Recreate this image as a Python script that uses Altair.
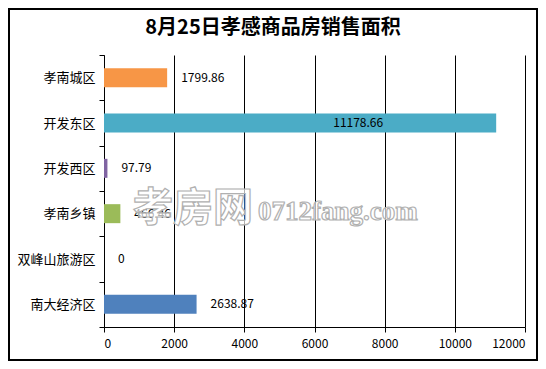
import altair as alt
import pandas as pd

categories = ["孝南城区", "开发东区", "开发西区", "孝南乡镇", "双峰山旅游区", "南大经济区"]
values = [1799.86, 11178.66, 97.79, 466.46, 0, 2638.87]
labels = ["1799.86", "11178.66", "97.79", "466.46", "0", "2638.87"]
colors = ["#F79646", "#4BACC6", "#8064A2", "#9BBB59", "#C0504D", "#4F81BD"]
x_ticks = [0, 2000, 4000, 6000, 8000, 10000, 12000]
title_text = "8月25日孝感商品房销售面积"
watermark_big = "孝房网"
watermark_small = "0712fang.com"

df = pd.DataFrame({"cat": categories, "value": values, "label": labels, "color": colors})

FONT = "Noto Sans CJK SC"

y_enc = alt.Y("cat:N", sort=categories, title=None,
              scale=alt.Scale(paddingInner=0, paddingOuter=0),
              axis=alt.Axis(tickBand="extent", tickSize=5, tickColor="black",
                            domainColor="black", labelFontSize=13, labelColor="black",
                            labelFont=FONT, labelPadding=4, grid=False))
x_enc = alt.X("value:Q", title=None,
              scale=alt.Scale(domain=[0, 12000], nice=False),
              axis=alt.Axis(values=x_ticks, grid=True, gridColor="black", gridOpacity=1,
                            tickSize=5, tickColor="black", domainColor="black",
                            labelFontSize=12, labelColor="black", labelFont=FONT,
                            labelPadding=6, format="d"))

base = alt.Chart(df)

bars = base.mark_bar(size=19).encode(
    x=x_enc, y=y_enc,
    color=alt.Color("color:N", scale=None, legend=None),
)

outside = base.transform_filter("datum.value < 10000").mark_text(
    align="left", baseline="middle", dx=14, fontSize=12, font=FONT, color="black"
).encode(x="value:Q", y=alt.Y("cat:N", sort=categories), text="label:N")

inside = base.transform_filter("datum.value >= 10000").mark_text(
    align="right", baseline="middle", dx=-113, fontSize=12, font=FONT, color="black"
).encode(x="value:Q", y=alt.Y("cat:N", sort=categories), text="label:N")

wm_df = pd.DataFrame({"t": [watermark_big]})
wm1 = alt.Chart(wm_df).mark_text(
    align="left", baseline="middle", fontSize=40, font=FONT, fontWeight="bold",
    fill="white", fillOpacity=0.7, stroke="#b0b0b0", strokeWidth=1.2
).encode(x=alt.value(29), y=alt.value(154), text="t:N")

wm_df2 = pd.DataFrame({"t": [watermark_small]})
wm2 = alt.Chart(wm_df2).mark_text(
    align="left", baseline="middle", fontSize=27, font="Liberation Serif", fontWeight="bold",
    fill="white", fillOpacity=0.7, stroke="#b0b0b0", strokeWidth=1.2
).encode(x=alt.value(154), y=alt.value(157), text="t:N")

title_df = pd.DataFrame({"t": [title_text]})
title = alt.Chart(title_df).mark_text(
    align="center", baseline="middle", fontSize=20, font=FONT, fontWeight="bold", color="black"
).encode(x=alt.value(169), y=alt.value(-27), text="t:N")

frame = alt.Chart(title_df).mark_rect(
    fill=None, stroke="black", strokeWidth=2
).encode(x=alt.value(-95), x2=alt.value(433), y=alt.value(-46), y2=alt.value(305))

chart = alt.layer(bars, outside, inside, wm1, wm2, title, frame).properties(
    width=421, height=272,
    padding={"left": 96, "top": 47, "right": 13, "bottom": 34},
    autosize=alt.AutoSizeParams(type="none"),
    background="white",
).configure_view(stroke=None)

chart.save("out.html", embed_options={"renderer": "svg", "actions": False})
